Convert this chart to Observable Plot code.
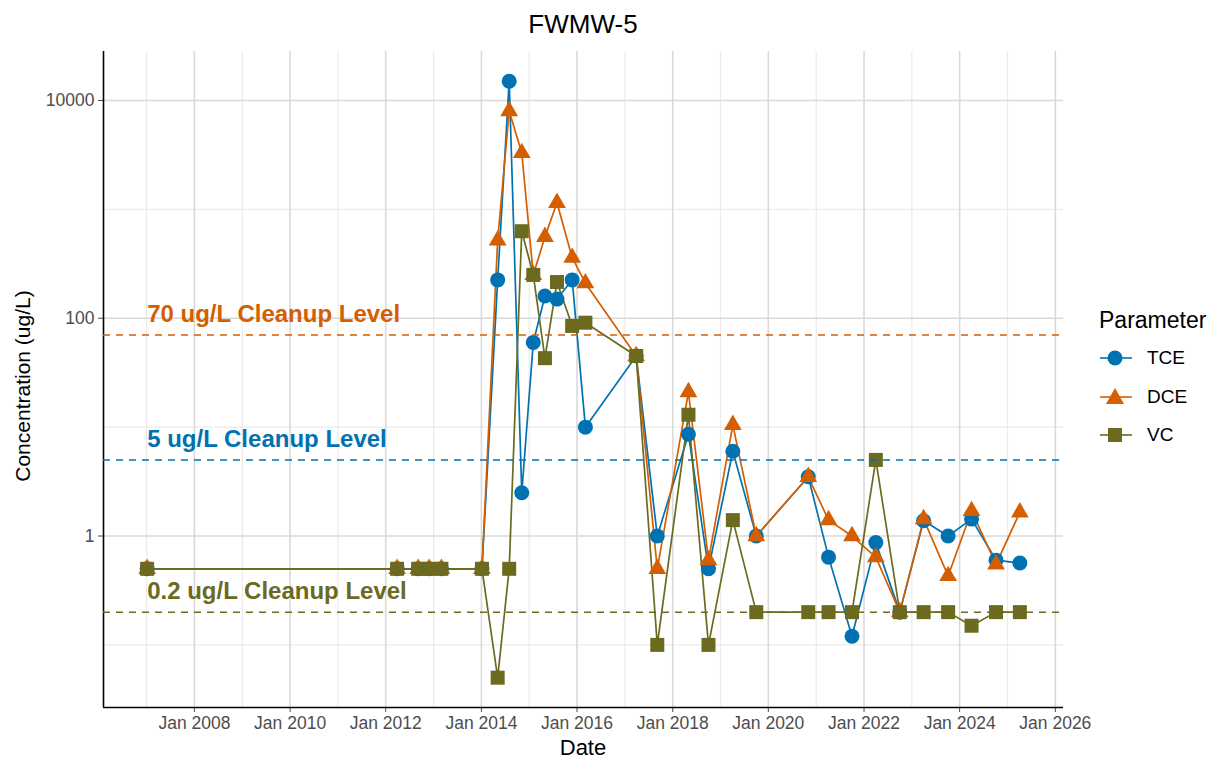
<!DOCTYPE html>
<html><head><meta charset="utf-8">
<script src="https://cdn.jsdelivr.net/npm/d3@7"></script>
<script src="https://cdn.jsdelivr.net/npm/@observablehq/plot@0.6"></script>
<style>
body{margin:0;background:#fff;font-family:"Liberation Sans",Arial,sans-serif;}
#wrap{position:relative;width:1217px;height:760px;overflow:hidden;}
#title{position:absolute;left:103px;width:960px;top:11px;text-align:center;font-size:26px;line-height:1;color:#000;}
#xlab{position:absolute;left:103px;width:960px;top:737px;text-align:center;font-size:22px;line-height:1;color:#000;}
#ylab{position:absolute;left:22px;top:386px;transform:translate(-50%,-50%) rotate(-90deg);white-space:nowrap;font-size:21px;line-height:1;color:#000;}
#chart{position:absolute;left:0;top:0;}
#legend{position:absolute;left:1099px;top:307px;}
#legend .t{font-size:23px;line-height:26px;color:#000;margin-bottom:6px;}
#legend .row{display:flex;align-items:center;height:38.5px;}
#legend .row span{font-size:19px;color:#000;margin-left:14px;}
</style></head><body>
<div id="wrap">
<div id="chart"></div>
<div id="title">FWMW-5</div>
<div id="xlab">Date</div>
<div id="ylab">Concentration (ug/L)</div>
<div id="legend"></div>
</div>
<script>
// ---- data ----
const dates = ["2007-01-05","2012-03-28","2012-09-05","2012-11-28","2013-03-01","2014-01-05",
  "2014-05-05","2014-08-01","2014-11-05","2015-02-01","2015-05-01","2015-08-01","2015-11-25","2016-03-05",
  "2017-03-28","2017-09-05","2018-05-01","2018-10-01","2019-04-05","2019-10-01",
  "2020-11-01","2021-04-05","2021-10-01","2022-04-01","2022-10-01","2023-04-01","2023-10-05",
  "2024-04-01","2024-10-05","2025-04-05"];
const tce = [0.5,0.5,0.5,0.5,0.5,0.5, 225,15000,2.5,60,160,150,225,10, 45,1.0,8.6,0.5,6.0,1.0,
  3.5,0.64,0.12,0.87,0.2,1.38,1.0,1.43,0.6,0.565];
const dce = [0.5,0.5,0.5,0.5,0.5,0.5, 520,8000,3300,250,560,1150,360,210, 45,0.5,21,0.6,10.5,1.0,
  3.5,1.4,1.0,0.64,0.2,1.43,0.43,1.7,0.55,1.65];
const vc = [0.5,0.5,0.5,0.5,0.5,0.5, 0.05,0.5,630,250,43,215,85,91, 45,0.1,13,0.1,1.4,0.2,
  0.2,0.2,0.2,5.0,0.2,0.2,0.2,0.15,0.2,0.2];
const params = ["TCE","DCE","VC"];
const colors = ["#0072B2","#D55E00","#6B6A1E"];
const symbols = ["circle","triangle","square"];
const cleanupValues = [70,5,0.2];
const cleanupParams = ["DCE","TCE","VC"];
const cleanupLabels = ["70 ug/L Cleanup Level","5 ug/L Cleanup Level","0.2 ug/L Cleanup Level"];
const yTicks = [1,100,10000];
const yMinor = [0.1,10,1000];
const xTickYears = [2008,2010,2012,2014,2016,2018,2020,2022,2024,2026];
const xMinorYears = [2007,2009,2011,2013,2015,2017,2019,2021,2023,2025];

// ---- build table ----
const series = {TCE:tce, DCE:dce, VC:vc};
const rows = [];
params.forEach(p => series[p].forEach((v,i) => rows.push({param:p, date:new Date(dates[i]), value:v})));
const cleanup = cleanupValues.map((v,i) => ({value:v, param:cleanupParams[i], label:cleanupLabels[i], date:new Date(dates[0])}));

const dts = rows.map(d => d.date.getTime());
const dmin = d3.min(dts), dmax = d3.max(dts), dspan = dmax - dmin;
const xDomain = [new Date(dmin - 0.05*dspan), new Date(dmax + 0.05*dspan)];
const allv = rows.map(d => d.value).concat(cleanupValues);
const lo = Math.log10(d3.min(allv)), hi = Math.log10(d3.max(allv)), pad = 0.05*(hi-lo);
const yDomain = [Math.pow(10, lo-pad), Math.pow(10, hi+pad)];
const yr = y => new Date(Date.UTC(y,0,1));

const dotMarks = params.map((p,i) => Plot.dot(rows.filter(d => d.param === p), {
  x:"date", y:"value", fill: colors[i], stroke:"none", symbol: symbols[i],
  r: i === 0 ? 7.5 : (i === 1 ? 6.6 : 7.9)
}));

const chart = Plot.plot({
  width:1217, height:760,
  marginTop:51, marginBottom:53, marginLeft:103, marginRight:154,
  style:{fontFamily:'"Liberation Sans",Arial,sans-serif', background:"#fff"},
  x:{type:"utc", domain:xDomain},
  y:{type:"log", domain:yDomain},
  color:{domain:params, range:colors},
  marks:[
    Plot.ruleY(yMinor, {stroke:"#ebebeb", strokeWidth:1.2}),
    Plot.ruleX(xMinorYears.map(yr), {stroke:"#ebebeb", strokeWidth:1.2}),
    Plot.ruleY(yTicks, {stroke:"#d9d9d9", strokeWidth:1.6}),
    Plot.ruleX(xTickYears.map(yr), {stroke:"#d9d9d9", strokeWidth:1.6}),
    Plot.axisX({ticks:xTickYears.map(yr), tickFormat:d => "Jan " + d.getUTCFullYear(), tickSize:5, tickPadding:4,
      fontSize:17.5, color:"#4d4d4d", label:null}),
    Plot.axisY({ticks:yTicks, tickFormat:d => String(d), tickSize:5, tickPadding:4,
      fontSize:17.5, color:"#4d4d4d", label:null}),
    Plot.ruleX([xDomain[0]], {stroke:"#000", strokeWidth:1.6}),
    Plot.ruleY([yDomain[0]], {stroke:"#000", strokeWidth:1.6}),
    Plot.line(rows, {x:"date", y:"value", z:"param", stroke:"param", strokeWidth:1.7}),
    ...dotMarks,
    Plot.ruleY(cleanup, {y:"value", stroke:"param", strokeWidth:1.5, strokeDasharray:"7,6"}),
    Plot.text(cleanup, {x:"date", y:"value", text:"label", fill:"param", textAnchor:"start", dy:-21,
      fontSize:24, fontWeight:"bold"})
  ]
});
document.getElementById("chart").appendChild(chart);

// ---- legend ----
const leg = document.getElementById("legend");
let html = '<div class="t">Parameter</div>';
params.forEach((p,i) => {
  let sym;
  if (symbols[i] === "circle") sym = `<circle cx="16" cy="10" r="7.5" fill="${colors[i]}"/>`;
  else if (symbols[i] === "triangle") sym = `<path d="M16,1 L25,17 L7,17 Z" fill="${colors[i]}"/>`;
  else sym = `<rect x="9" y="3" width="14" height="14" fill="${colors[i]}"/>`;
  html += `<div class="row"><svg width="34" height="20"><line x1="1" x2="33" y1="10" y2="10" stroke="${colors[i]}" stroke-width="1.6"/>${sym}</svg><span>${p}</span></div>`;
});
leg.innerHTML = html;
</script>
</body></html>
